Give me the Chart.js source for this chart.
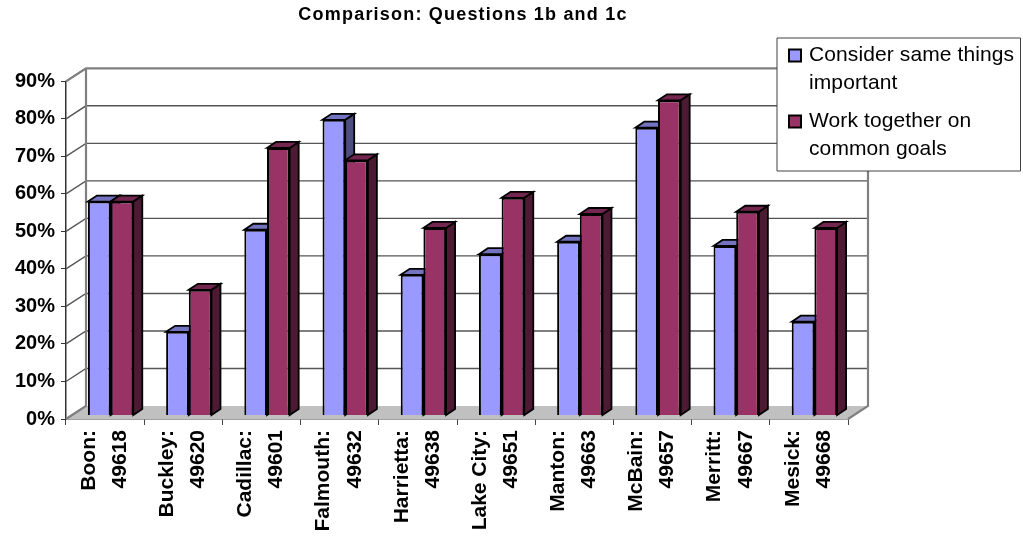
<!DOCTYPE html>
<html>
<head>
<meta charset="utf-8">
<style>
  body { margin: 0; background: #fff; }
</style>
<script src="https://cdn.jsdelivr.net/npm/chart.js@4"></script>
</head>
<body>
<canvas id="chart" width="1023" height="540"></canvas>
<script>
const titleText = "Comparison: Questions 1b and 1c";
const towns = ["Boon:", "Buckley:", "Cadillac:", "Falmouth:", "Harrietta:", "Lake City:", "Manton:", "McBain:", "Merritt:", "Mesick:"];
const zips = ["49618", "49620", "49601", "49632", "49638", "49651", "49663", "49657", "49667", "49668"];
const sameThings = [57, 22.3, 49.5, 78.8, 37.5, 43, 46.3, 76.7, 45.2, 25];
const workTogether = [57, 33.5, 71.3, 68, 50, 58, 53.7, 84, 54.3, 50];
const sameLegend = ["Consider same things", "important"];
const workLegend = ["Work together on", "common goals"];

const FONT = '"Liberation Sans", Arial, sans-serif';

// how far the back wall sits behind the axes, and the bars within that depth
const wallX = 20, wallY = 13;
const barOffX = 5.5, barOffY = 3.5;
const barDepthX = 9, barDepthY = 6;

const faces = [
  { top: "#7373bf", side: "#4d4d80" },
  { top: "#732650", side: "#4d1a33" },
];

function poly(ctx, pts, fill, stroke, lw) {
  ctx.beginPath();
  pts.forEach((p, i) => (i ? ctx.lineTo(p[0], p[1]) : ctx.moveTo(p[0], p[1])));
  ctx.closePath();
  if (fill) { ctx.fillStyle = fill; ctx.fill(); }
  if (stroke) { ctx.strokeStyle = stroke; ctx.lineWidth = lw; ctx.stroke(); }
}

const walls = {
  id: "walls",
  beforeDatasetsDraw(chart) {
    const { ctx, chartArea: a, scales } = chart;
    const bottom = a.bottom, left = a.left, right = a.right;
    ctx.save();
    // floor
    poly(ctx, [[left, bottom], [left + wallX, bottom - wallY], [right + wallX, bottom - wallY], [right, bottom]], "#c0c0c0");
    // gridlines along the side and back wall
    scales.y.ticks.forEach((t) => {
      const y = scales.y.getPixelForValue(t.value);
      ctx.strokeStyle = "#555";
      ctx.lineWidth = 1.4;
      ctx.beginPath();
      ctx.moveTo(left, y);
      ctx.lineTo(left + wallX, y - wallY);
      if (t.value > 0 && t.value < 90) ctx.lineTo(right + wallX, y - wallY);
      ctx.stroke();
    });
    // wall frame
    ctx.strokeStyle = "#808080";
    ctx.lineWidth = 2.2;
    ctx.beginPath();
    ctx.moveTo(left, a.top);
    ctx.lineTo(left + wallX, a.top - wallY);
    ctx.lineTo(right + wallX, a.top - wallY);
    ctx.lineTo(right + wallX, bottom - wallY);
    ctx.lineTo(right, bottom);
    ctx.moveTo(left + wallX, a.top - wallY);
    ctx.lineTo(left + wallX, bottom - wallY);
    ctx.lineTo(left, bottom);
    ctx.stroke();
    ctx.restore();

    // tops and sides of the bars, then the fronts come from Chart.js on top
    ctx.save();
    ctx.translate(barOffX, -barOffY);
    chart.data.datasets.forEach((ds, di) => {
      chart.getDatasetMeta(di).data.forEach((bar) => {
        const l = bar.x - bar.width / 2, r = bar.x + bar.width / 2;
        const t = bar.y, b = bar.base;
        poly(ctx, [[r, t], [r + barDepthX, t - barDepthY], [r + barDepthX, b - barDepthY], [r, b]], faces[di].side, "#000", 1.8);
        poly(ctx, [[l, t], [l + barDepthX, t - barDepthY], [r + barDepthX, t - barDepthY], [r, t]], faces[di].top, "#000", 1.8);
      });
    });
  },
  afterDatasetsDraw(chart) {
    chart.ctx.restore();
  },
  afterDraw(chart) {
    const ctx = chart.ctx;
    ctx.save();
    // title
    ctx.fillStyle = "#000";
    ctx.font = "bold 18px " + FONT;
    ctx.letterSpacing = "1.2px";
    ctx.textAlign = "center";
    ctx.textBaseline = "middle";
    ctx.fillText(titleText, 463, 15);
    // legend
    ctx.letterSpacing = "0.1px";
    poly(ctx, [[777, 38], [1020.5, 38], [1020.5, 171], [777, 171]], "#fff", "#404040", 1);
    const entries = [
      { lines: sameLegend, color: chart.data.datasets[0].backgroundColor, y: 55 },
      { lines: workLegend, color: chart.data.datasets[1].backgroundColor, y: 121 },
    ];
    entries.forEach((e) => {
      poly(ctx, [[789, e.y - 5.5], [801, e.y - 5.5], [801, e.y + 6.5], [789, e.y + 6.5]], e.color, "#000", 2);
      ctx.fillStyle = "#000";
      ctx.font = "21px " + FONT;
      ctx.textAlign = "left";
      e.lines.forEach((line, i) => ctx.fillText(line, 809, e.y + i * 28));
    });
    ctx.restore();
  },
};

new Chart(document.getElementById("chart"), {
  type: "bar",
  data: {
    labels: towns.map((t, i) => [t, zips[i]]),
    datasets: [
      { label: sameLegend.join(" "), data: sameThings, backgroundColor: "#9999ff", borderColor: "#000", borderWidth: 2 },
      { label: workLegend.join(" "), data: workTogether, backgroundColor: "#993366", borderColor: "#000", borderWidth: 2 },
    ],
  },
  options: {
    responsive: false,
    animation: false,
    layout: { padding: { left: 0, top: 81.3, right: 175, bottom: 0 } },
    datasets: { bar: { barPercentage: 1, categoryPercentage: 0.58, clip: false } },
    plugins: { legend: { display: false }, title: { display: false }, tooltip: { enabled: false } },
    scales: {
      x: {
        afterFit(scale) { scale.height = 121; },
        grid: { drawOnChartArea: false, tickLength: 6, color: "#444" },
        border: { color: "#444", width: 1.5 },
        ticks: {
          autoSkip: false,
          minRotation: 90,
          maxRotation: 90,
          labelOffset: -16,
          color: "#000",
          padding: 5,
          font: { family: FONT, size: 21, weight: "bold", lineHeight: 1.48 },
        },
      },
      y: {
        min: 0,
        max: 90,
        afterFit(scale) { scale.width = 66; },
        grid: { drawOnChartArea: false, tickLength: 5, color: "#333" },
        border: { color: "#333", width: 1.5 },
        ticks: {
          stepSize: 10,
          color: "#000",
          padding: 6,
          font: { family: FONT, size: 20, weight: "bold" },
          callback: (v) => v + "%",
        },
      },
    },
  },
  plugins: [walls],
});
</script>
</body>
</html>
